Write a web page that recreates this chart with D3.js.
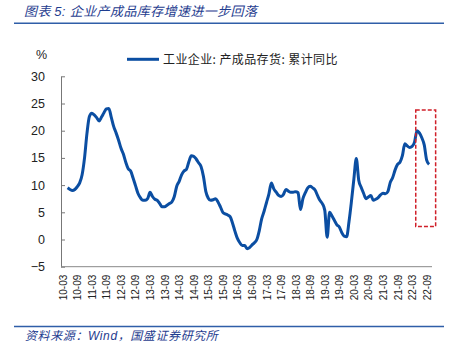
<!DOCTYPE html>
<html>
<head>
<meta charset="utf-8">
<script src="https://cdn.jsdelivr.net/npm/d3@7"></script>
<style>
  html, body { margin: 0; padding: 0; background: #fff; }
  svg { display: block; }
</style>
</head>
<body>
<svg id="chart" width="458" height="349"></svg>
<script>
// Industrial enterprises: finished-goods inventory, cumulative YoY (%)
// Monthly series starting 2010-05.
const seriesName = "工业企业: 产成品存货: 累计同比";
const startYear = 2010, startMonth = 5;
const inventoryYoY = [
  9.5, 9.2, 9.0, 9.2, 9.7, 10.4, 11.9, 15.0, 19.5, 22.6,
  23.2, 22.9, 22.4, 21.8, 22.5, 23.3, 24.0, 24.1, 22.5, 20.8,
  19.6, 18.3, 16.8, 15.7, 14.2, 13.0, 12.6, 11.3, 9.9, 8.5,
  7.7, 7.2, 7.2, 7.5, 8.7, 7.9, 7.4, 7.2, 6.6, 6.0,
  6.0, 6.3, 6.6, 6.9, 7.9, 9.8, 10.7, 11.9, 12.6, 12.9,
  14.3, 15.4, 15.3, 14.8, 14.1, 13.4, 11.6, 8.8, 7.6, 7.2,
  7.3, 7.5, 6.9, 6.0, 5.0, 4.7, 4.5, 4.2, 3.0, 1.5,
  0.2, -0.6, -1.1, -1.1, -1.7, -1.5, -1.0, -0.6, 0.0, 1.6,
  3.8, 5.2, 6.8, 8.4, 10.4, 9.3, 8.7, 8.1, 7.9, 8.3,
  9.2, 8.9, 8.7, 8.7, 8.8, 8.6, 5.5, 7.5, 8.6, 9.5,
  9.8, 9.5, 9.1, 8.1, 7.2, 6.6, 5.4, 0.4, 5.0, 4.3,
  3.5, 2.7, 2.3, 1.3, 0.6, 0.5, 3.3, 7.0, 11.1, 14.9,
  10.9, 9.6, 8.5, 7.5, 7.8, 8.1, 7.2, 7.4, 7.7, 8.2,
  8.5, 8.4, 8.8, 10.5, 11.4, 12.8, 13.8, 14.2, 15.4, 17.6,
  17.2, 16.9, 17.1, 17.9, 20.0, 19.6, 18.7, 17.4, 14.6, 13.8
];
const xTickLabels = [
  "10-03","10-09","11-03","11-09","12-03","12-09","13-03","13-09","14-03","14-09",
  "15-03","15-09","16-03","16-09","17-03","17-09","18-03","18-09","19-03","19-09",
  "20-03","20-09","21-03","21-09","22-03","22-09"
];
const yTicks = [-5, 0, 5, 10, 15, 20, 25, 30];
// highlighted recent window (month offsets from 2010-03)
const highlightMonths = [145.5, 153.7];
const highlightRange = [2.4, 23.8];

// month offset from the first axis category (2010-03)
const monthIndex = (y, m) => (y - 2010) * 12 + (m - 3);
const points = inventoryYoY.map((v, i) => {
  const total = startMonth - 1 + i;
  const y = startYear + Math.floor(total / 12), m = total % 12 + 1;
  return { idx: monthIndex(y, m), value: v };
});

const svg = d3.select("#chart");
const titleBlue = "#1f3d8f", ruleBlue = "#2f5ea8", lineBlue = "#0b4ea2";

// header
const title = svg.append("text").attr("x", 24).attr("y", 16)
  .attr("fill", titleBlue).attr("font-size", 13).attr("font-style", "italic")
  .attr("letter-spacing", 0.4)
  .attr("font-family", "'Noto Sans CJK SC', sans-serif");
title.append("tspan").text("图表 ");
title.append("tspan").attr("font-family", "'Liberation Sans', Arial, sans-serif").text("5:  ");
title.append("tspan").text("企业产成品库存增速进一步回落");
svg.append("line").attr("x1", 14).attr("x2", 444).attr("y1", 23.3).attr("y2", 23.3)
  .attr("stroke", ruleBlue).attr("stroke-width", 1.6);

// footer
svg.append("line").attr("x1", 14).attr("x2", 444).attr("y1", 326.5).attr("y2", 326.5)
  .attr("stroke", ruleBlue).attr("stroke-width", 1.6);
const src = svg.append("text").attr("x", 25).attr("y", 340)
  .attr("fill", titleBlue).attr("font-size", 12).attr("font-style", "italic")
  .attr("letter-spacing", 0.6)
  .attr("font-family", "'Noto Sans CJK SC', sans-serif");
src.append("tspan").text("资料来源：");
src.append("tspan").attr("font-family", "'Liberation Sans', Arial, sans-serif").text("Wind");
src.append("tspan").text("，国盛证券研究所");

// scales
const x = d3.scaleLinear().domain([-0.7, 152.2]).range([61, 432]);
const y = d3.scaleLinear().domain([-5, 30]).range([266.7, 76.3]);

// y axis
const yAxis = svg.append("g").attr("transform", "translate(61,0)")
  .call(d3.axisLeft(y).tickValues(yTicks).tickSizeInner(-4).tickSizeOuter(0).tickPadding(16));
yAxis.select(".domain").attr("stroke", "#777");
yAxis.selectAll(".tick line").attr("stroke", "#777");
yAxis.selectAll("text").attr("font-size", 12.5).attr("fill", "#222")
  .attr("font-family", "'Liberation Sans', Arial, sans-serif");
svg.append("text").attr("x", 41.5).attr("y", 59).attr("text-anchor", "middle")
  .attr("font-size", 12.5).attr("fill", "#222")
  .attr("font-family", "'Liberation Sans', Arial, sans-serif").text("%");

// x axis
const xTickIdx = xTickLabels.map((_, i) => i * 6);
const xAxis = svg.append("g").attr("transform", `translate(0,${y(-5)})`)
  .call(d3.axisBottom(x).tickValues(xTickIdx).tickFormat((d, i) => xTickLabels[i])
    .tickSize(0).tickPadding(0));
xAxis.select(".domain").attr("stroke", "#888").attr("d", `M61,0H432`);
xAxis.selectAll("text")
  .attr("transform", "rotate(-90)")
  .attr("text-anchor", "end").attr("dy", "0.35em").attr("dx", "-8").attr("y", 0)
  .attr("font-size", 10).attr("fill", "#222")
  .attr("font-family", "'Liberation Sans', Arial, sans-serif");

// series line
const line = d3.line().x(d => x(d.idx)).y(d => y(d.value)).curve(d3.curveMonotoneX);
svg.append("path").datum(points).attr("d", line)
  .attr("fill", "none").attr("stroke", lineBlue).attr("stroke-width", 3)
  .attr("stroke-linejoin", "round");

// highlight box
svg.append("rect")
  .attr("x", x(highlightMonths[0])).attr("width", x(highlightMonths[1]) - x(highlightMonths[0]))
  .attr("y", y(highlightRange[1])).attr("height", y(highlightRange[0]) - y(highlightRange[1]))
  .attr("fill", "none").attr("stroke", "#d0202a").attr("stroke-width", 1.5)
  .attr("stroke-dasharray", "4,2");

// legend
svg.append("line").attr("x1", 127).attr("x2", 159).attr("y1", 59.3).attr("y2", 59.3)
  .attr("stroke", lineBlue).attr("stroke-width", 3);
svg.append("text").attr("x", 163).attr("y", 63.5).attr("font-size", 12).attr("fill", "#222")
  .attr("letter-spacing", 0.4)
  .attr("font-family", "'Noto Sans CJK SC', sans-serif").text(seriesName);
</script>
</body>
</html>
